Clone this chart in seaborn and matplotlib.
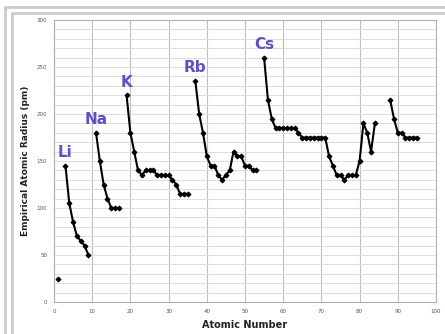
import seaborn as sns
import matplotlib.pyplot as plt
from matplotlib.lines import Line2D
import pandas as pd

# empirical atomic radii (pm), one list per connected run of elements
h_z = [1]
h_r = [25]
li_z = [3, 4, 5, 6, 7, 8, 9]
li_r = [145, 105, 85, 70, 65, 60, 50]
na_z = [11, 12, 13, 14, 15, 16, 17]
na_r = [180, 150, 125, 110, 100, 100, 100]
k_z = list(range(19, 36))
k_r = [220, 180, 160, 140, 135, 140, 140, 140, 135, 135, 135, 135, 130, 125, 115, 115, 115]
rb_z = list(range(37, 54))
rb_r = [235, 200, 180, 155, 145, 145, 135, 130, 135, 140, 160, 155, 155, 145, 145, 140, 140]
cs_z = list(range(55, 85))
cs_r = [260, 215, 195, 185, 185, 185, 185, 185, 185, 180, 175, 175, 175, 175, 175, 175, 175,
        155, 145, 135, 135, 130, 135, 135, 135, 150, 190, 180, 160, 190]
fr_z = list(range(88, 96))
fr_r = [215, 195, 180, 180, 175, 175, 175, 175]

peak_names = ['Li', 'Na', 'K', 'Rb', 'Cs']

segments = [(h_z, h_r), (li_z, li_r), (na_z, na_r), (k_z, k_r), (rb_z, rb_r), (cs_z, cs_r), (fr_z, fr_r)]
rows = []
for i, (zs, rs) in enumerate(segments):
    for z, r in zip(zs, rs):
        rows.append({'Z': z, 'radius': r, 'segment': i})
df = pd.DataFrame(rows)

sns.set_style('white')
fig = plt.figure(figsize=(4.45, 3.34), dpi=100)
ax = fig.add_axes([54 / 445, 32 / 334, 382 / 445, 282 / 334])

sns.lineplot(data=df, x='Z', y='radius', units='segment', estimator=None, color='black',
             linewidth=1.5, marker='D', markersize=2.5, markeredgecolor='black', ax=ax)

ax.set_xlim(0, 100)
ax.set_ylim(0, 300)
ax.set_xticks(range(0, 101, 10))
ax.set_yticks(range(0, 301, 50))
ax.set_yticks(range(0, 301, 10), minor=True)
ax.grid(True, which='major', axis='x', color='#bdbdbd', linewidth=0.8)
ax.grid(True, which='both', axis='y', color='#dcdcdc', linewidth=0.7)
ax.set_axisbelow(True)
ax.tick_params(axis='both', which='major', labelsize=4, colors='#555555', length=2, pad=3)
ax.tick_params(axis='y', which='minor', length=0)
for s in ax.spines.values():
    s.set_color('#b0b0b0')
    s.set_linewidth(0.8)

ax.set_xlabel('Atomic Number', fontsize=7, fontweight='bold', color='#222222', labelpad=4)
ax.set_ylabel('Empirical Atomic Radius (pm)', fontsize=6.5, fontweight='bold', color='#222222', labelpad=5)

# element labels above each alkali metal peak
for name, (zs, rs) in zip(peak_names, segments[1:6]):
    ax.text(zs[0], rs[0] + 6, name, ha='center', va='bottom', fontsize=11,
            fontweight='bold', color='#5b52c4')

# double grey frame around the figure
for x in [5 / 445, 12 / 445]:
    fig.add_artist(Line2D([x, x], [0, 1 - (7 if x < 0.02 else 13) / 334], color='#cccccc', linewidth=2))
for y, x0 in [(1 - 7 / 334, 5 / 445), (1 - 13 / 334, 12 / 445)]:
    fig.add_artist(Line2D([x0, 1], [y, y], color='#cccccc', linewidth=2))

plt.savefig('out.png', dpi=100)
